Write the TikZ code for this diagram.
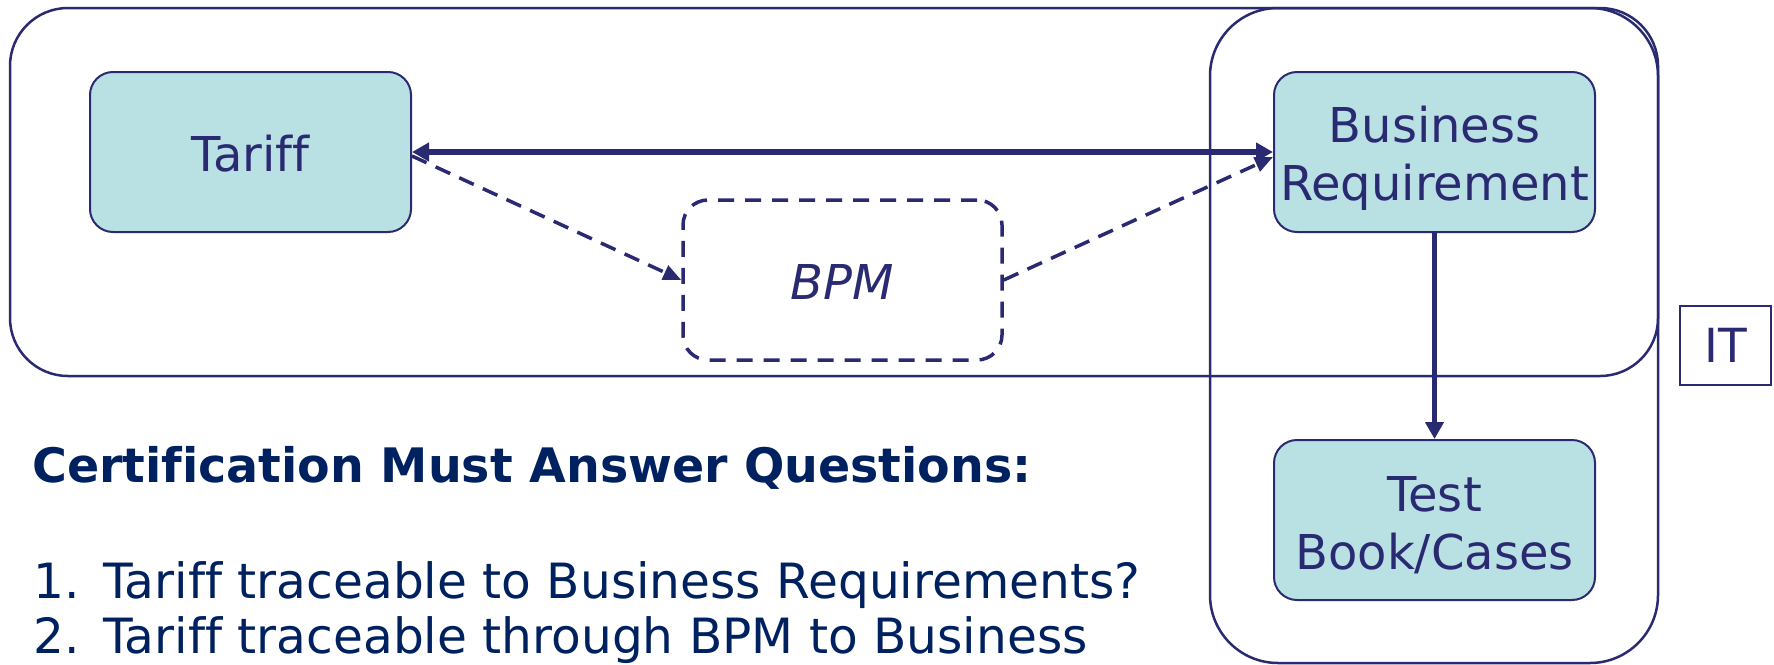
\documentclass[tikz,border=0pt]{standalone}
\usepackage{fontspec}
\setmainfont[Ligatures=NoCommon]{DejaVu Sans}
\usetikzlibrary{arrows.meta}
\definecolor{lineblue}{RGB}{42,42,114}
\definecolor{boxfill}{RGB}{185,224,227}
\definecolor{textblue}{RGB}{0,33,96}
\tikzset{
  outerbox/.style={draw=lineblue, line width=2.5pt, inner sep=0pt},
  cyanbox/.style={draw=lineblue, line width=2pt, fill=boxfill, rounded corners=23pt,
    inner sep=0pt, minimum width=321pt, minimum height=160pt},
  boxtext/.style={text=lineblue, font=\fontsize{48}{58}\selectfont, align=center, inner sep=0pt},
  dashbox/.style={draw=lineblue, line width=3.5pt, dash pattern=on 16pt off 11pt,
    rounded corners=25pt, inner sep=0pt, minimum width=319pt, minimum height=160pt},
  solidarrow/.style={draw=lineblue, line width=5.5pt},
  dasharrow/.style={draw=lineblue, line width=3.5pt, dash pattern=on 16pt off 10pt,
    -{Triangle[length=18pt,width=15pt]}},
  qtext/.style={text=textblue, anchor=base west, inner sep=0pt,
    font=\fontsize{48.6}{55}\selectfont},
}
\begin{document}
\begin{tikzpicture}[x=1pt,y=-1pt]
\useasboundingbox (0,0) rectangle (1774,664);
% containers
\node[outerbox, rounded corners=58pt, minimum width=1648pt, minimum height=368pt] (top) at (834,192) {};
\node[outerbox, rounded corners=68pt, minimum width=448pt, minimum height=655pt] (itgrp) at (1434,335.5) {};
% boxes
\node[cyanbox] (tariff) at (250.5,152) {};
\node[boxtext] (tarifftext) at ([yshift=-2pt]tariff.center) {Tariff};
\node[cyanbox] (br) at (1434.5,152) {};
\node[boxtext] (brtext) at ([yshift=-6pt]br.center) {Business\\Requirement};
\node[dashbox] (bpm) at (842.5,280) {};
\node[boxtext, font=\fontsize{48}{58}\selectfont\itshape] (bpmtext) at ([yshift=-2pt]bpm.center) {BPM};
\node[cyanbox] (test) at (1434.5,520) {};
\node[boxtext] (testtext) at ([yshift=-5pt]test.center) {Test\\Book/Cases};
\node[draw=lineblue, line width=2pt, text=lineblue, inner sep=0pt,
      minimum width=91pt, minimum height=79pt, font=\fontsize{47}{50}\selectfont] (it) at (1725.5,345.5) {IT};
% connectors
\draw[solidarrow, {Triangle[length=17pt,width=18pt]}-{Triangle[length=17pt,width=18pt]}] (tariff.east) -- (br.west);
\draw[dasharrow] ([yshift=-4pt]tariff.east) -- (bpm.west);
\draw[dasharrow] (bpm.east) -- ([yshift=-5pt]br.west);
\draw[solidarrow, -{Triangle[length=17pt,width=18pt]}] (br.south) -- (test.north);
% text
\node[text=textblue, anchor=base west, inner sep=0pt,
      font=\fontsize{47.5}{50}\selectfont\bfseries] (head) at (32,482) {Certification Must Answer Questions:};
\node[qtext] (n1) at (33,598) {1.};
\node[qtext] (q1) at (103,598) {Tariff traceable to Business Requirements?};
\node[qtext] (n2) at (33,653) {2.};
\node[qtext] (q2) at (103,653) {Tariff traceable through BPM to Business};
\end{tikzpicture}
\end{document}
